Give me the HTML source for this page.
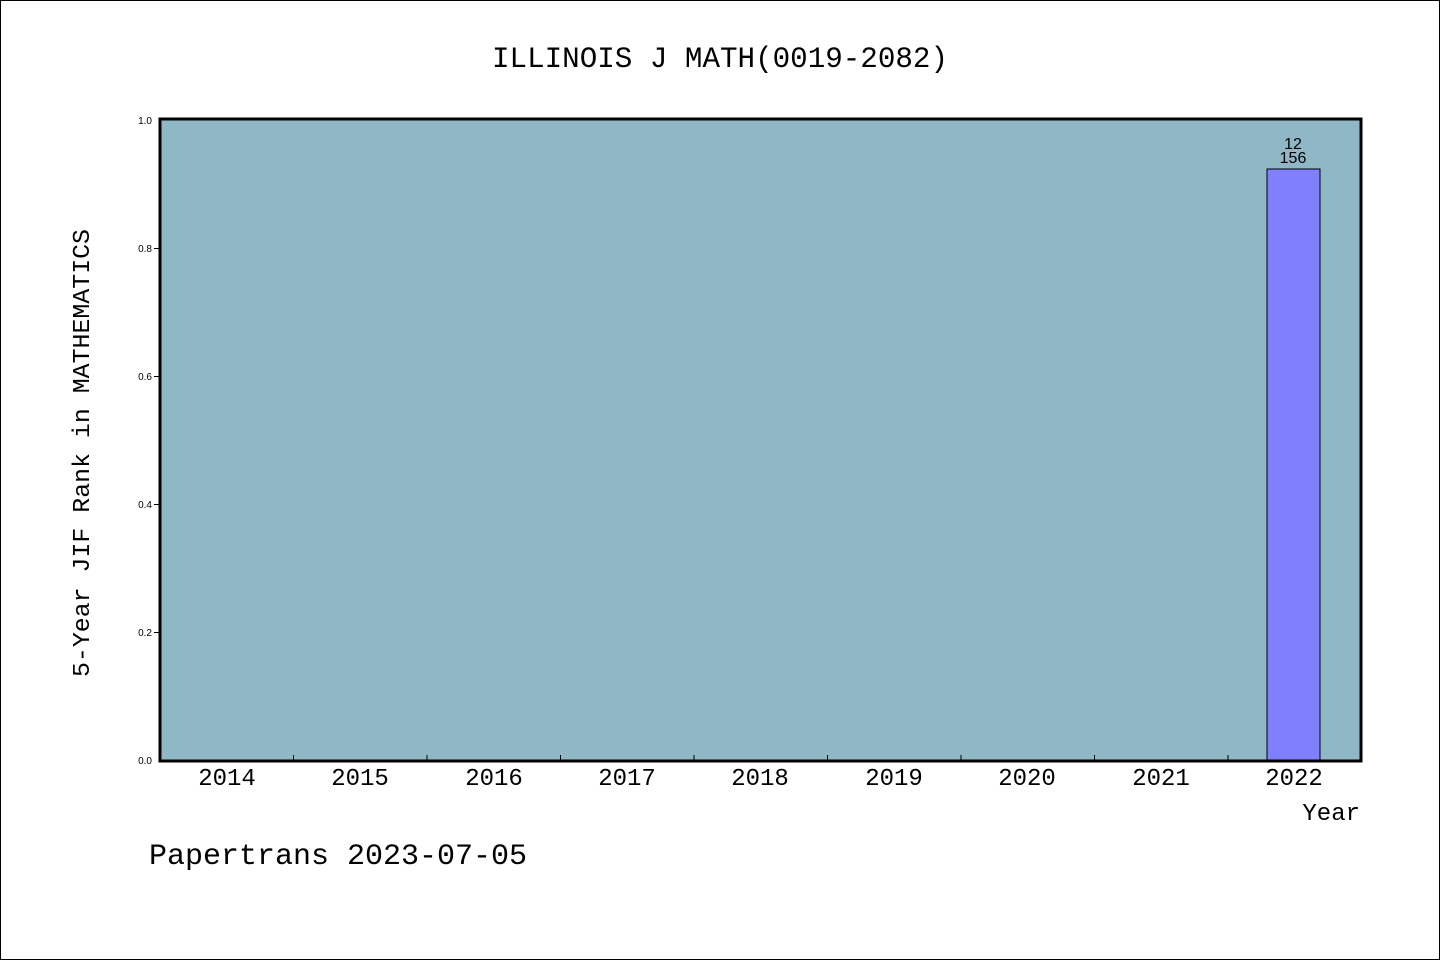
<!DOCTYPE html>
<html><head><style>body{margin:0;background:#fff}svg{display:block}</style></head><body>
<svg width="1440" height="960" xmlns="http://www.w3.org/2000/svg" font-family="'WenQuanYi Zen Hei','Liberation Mono',monospace">
<rect x="0.5" y="0.5" width="1439" height="959" fill="#fff" stroke="#000"/>
<text x="720" y="67" font-size="30" text-anchor="middle" textLength="456" lengthAdjust="spacingAndGlyphs">ILLINOIS J MATH(0019-2082)</text>
<rect x="160" y="119" width="1201" height="642" fill="#8fb7c6"/>
<rect x="1267" y="169" width="53" height="592" fill="#8080ff" stroke="#000" stroke-width="1"/>
<text x="1293" y="149" font-size="16" text-anchor="middle" font-family="'Liberation Sans',sans-serif">12</text>
<text x="1293" y="163" font-size="16" text-anchor="middle" font-family="'Liberation Sans',sans-serif">156</text>
<g stroke="#000" stroke-width="1">
<line x1="293.5" y1="761" x2="293.5" y2="755"/><line x1="427" y1="761" x2="427" y2="755"/><line x1="560.5" y1="761" x2="560.5" y2="755"/><line x1="694" y1="761" x2="694" y2="755"/><line x1="827.5" y1="761" x2="827.5" y2="755"/><line x1="961" y1="761" x2="961" y2="755"/><line x1="1094.5" y1="761" x2="1094.5" y2="755"/><line x1="1228" y1="761" x2="1228" y2="755"/>
<line x1="154" y1="632.5" x2="160" y2="632.5"/><line x1="154" y1="504.5" x2="160" y2="504.5"/><line x1="154" y1="376.5" x2="160" y2="376.5"/><line x1="154" y1="248.5" x2="160" y2="248.5"/>
</g>
<rect x="160" y="119" width="1201" height="642" fill="none" stroke="#000" stroke-width="3"/>
<g font-size="10" text-anchor="end" font-family="'Liberation Sans',sans-serif">
<text x="152" y="764">0.0</text><text x="152" y="636">0.2</text><text x="152" y="508">0.4</text><text x="152" y="380">0.6</text><text x="152" y="252">0.8</text><text x="152" y="124">1.0</text>
</g>
<g font-size="24" text-anchor="middle">
<text x="227" y="785">2014</text><text x="360" y="785">2015</text><text x="494" y="785">2016</text><text x="627" y="785">2017</text><text x="760" y="785">2018</text><text x="894" y="785">2019</text><text x="1027" y="785">2020</text><text x="1161" y="785">2021</text><text x="1294" y="785">2022</text>
</g>
<text x="1360" y="820" font-size="24" text-anchor="end">Year</text>
<text transform="translate(89,453) rotate(-90)" font-size="24" text-anchor="middle" textLength="448" lengthAdjust="spacingAndGlyphs">5-Year JIF Rank in MATHEMATICS</text>
<text x="149" y="864" font-size="30">Papertrans 2023-07-05</text>
</svg>
</body></html>
